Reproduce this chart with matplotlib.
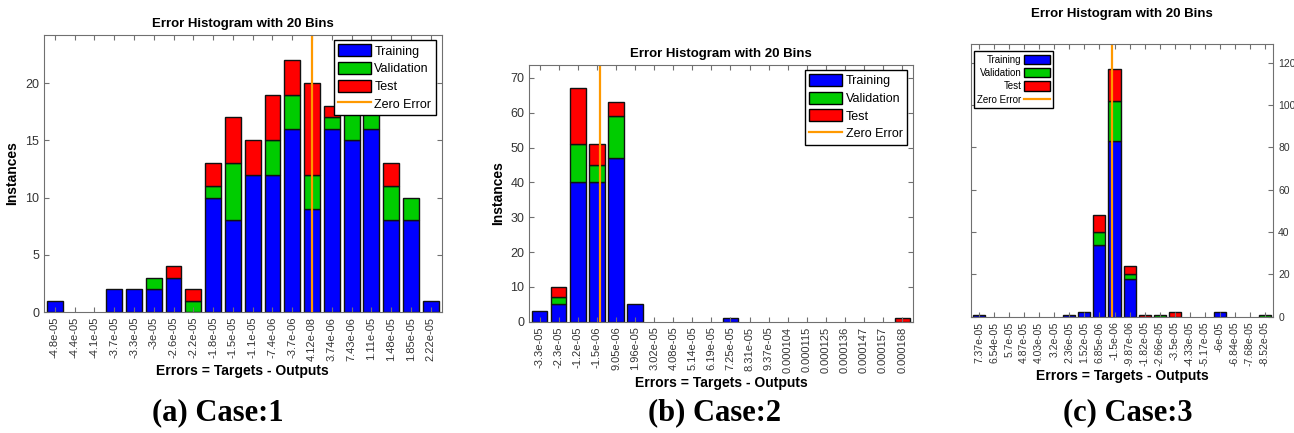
import matplotlib
matplotlib.use("Agg")
import matplotlib.pyplot as plt
import numpy as np
from matplotlib.patches import Patch
from matplotlib.lines import Line2D

plt.rcParams['font.family'] = ['Liberation Sans', 'DejaVu Sans']

# ---- data (bin centres as tick labels, counts per bin) ----
labels_a = ['-4.8e-05', '-4.4e-05', '-4.1e-05', '-3.7e-05', '-3.3e-05', '-3e-05', '-2.6e-05',
            '-2.2e-05', '-1.8e-05', '-1.5e-05', '-1.1e-05', '-7.4e-06', '-3.7e-06', '4.12e-08',
            '3.74e-06', '7.43e-06', '1.11e-05', '1.48e-05', '1.85e-05', '2.22e-05']
train_a = [1, 0, 0, 2, 2, 2, 3, 0, 10, 8, 12, 12, 16, 9, 16, 15, 16, 8, 8, 1]
val_a   = [0, 0, 0, 0, 0, 1, 0, 1, 1, 5, 0, 3, 3, 3, 1, 3, 2, 3, 2, 0]
test_a  = [0, 0, 0, 0, 0, 0, 1, 1, 2, 4, 3, 4, 3, 8, 1, 1, 1, 2, 0, 0]

labels_b = ['-3.3e-05', '-2.3e-05', '-1.2e-05', '-1.5e-06', '9.05e-06', '1.96e-05', '3.02e-05',
            '4.08e-05', '5.14e-05', '6.19e-05', '7.25e-05', '8.31e-05', '9.37e-05', '0.000104',
            '0.000115', '0.000125', '0.000136', '0.000147', '0.000157', '0.000168']
train_b = [3, 5, 40, 40, 47, 5, 0, 0, 0, 0, 1, 0, 0, 0, 0, 0, 0, 0, 0, 0]
val_b   = [0, 2, 11, 5, 12, 0, 0, 0, 0, 0, 0, 0, 0, 0, 0, 0, 0, 0, 0, 0]
test_b  = [0, 3, 16, 6, 4, 0, 0, 0, 0, 0, 0, 0, 0, 0, 0, 0, 0, 0, 0, 1]

labels_c = ['-8.52e-05', '-7.68e-05', '-6.84e-05', '-6e-05', '-5.17e-05', '-4.33e-05', '-3.5e-05',
            '-2.66e-05', '-1.82e-05', '-9.87e-06', '-1.5e-06', '6.85e-06', '1.52e-05', '2.36e-05',
            '3.2e-05', '4.03e-05', '4.87e-05', '5.7e-05', '6.54e-05', '7.37e-05']
train_c = [0, 0, 0, 2, 0, 0, 0, 0, 0, 18, 83, 34, 2, 1, 0, 0, 0, 0, 0, 1]
val_c   = [1, 0, 0, 0, 0, 0, 0, 1, 0, 2, 19, 6, 0, 0, 0, 0, 0, 0, 0, 0]
test_c  = [0, 0, 0, 0, 0, 0, 2, 0, 1, 4, 15, 8, 0, 0, 0, 0, 0, 0, 0, 0]

captions = ['(a) Case:1', '(b) Case:2', '(c) Case:3']

BLUE, GREEN, RED, ORANGE = '#0000ff', '#00cc00', '#ff0000', '#ff9900'
GRAY = '#707070'


def draw_hist(ax, labels, train, val, test, tick_fs=8, ytick_fs=9, leg_fs=9,
              title_pad=6, mirrored=False):
    pos = np.arange(1, len(labels) + 1)
    tr, va, te = np.array(train), np.array(val), np.array(test)
    for vals, base, col in [(tr, 0, BLUE), (va, tr, GREEN), (te, tr + va, RED)]:
        edges = ['#111111' if v > 0 else 'none' for v in vals]
        ax.bar(pos, vals, bottom=base, width=0.8, color=col, edgecolor=edges, linewidth=1.0)
    centers = np.array([float(s) for s in labels])
    zero = np.interp(0.0, centers, pos)
    ax.axvline(zero, color=ORANGE, lw=1.6)
    ax.set_xlim(0.45, len(labels) + 0.55)
    ax.set_ylim(0, 1.1 * (tr + va + te).max())
    ax.set_xticks(pos)
    ax.set_xticklabels(labels, rotation=90)
    ax.tick_params(axis='both', direction='in', top=True, right=True, length=3.5,
                   color=GRAY, labelcolor='#333333')
    ax.tick_params(axis='x', labelsize=tick_fs)
    ax.tick_params(axis='y', labelsize=ytick_fs)
    for sp in ax.spines.values():
        sp.set_color(GRAY)
    ax.set_title('Error Histogram with 20 Bins', fontsize=9.5, fontweight='bold', pad=title_pad)
    ax.set_xlabel('Errors = Targets - Outputs', fontsize=10, fontweight='bold', labelpad=2)
    handles = [Patch(facecolor=BLUE, edgecolor='black'),
               Patch(facecolor=GREEN, edgecolor='black'),
               Patch(facecolor=RED, edgecolor='black'),
               Line2D([0], [0], color=ORANGE, lw=1.6)]
    names = ['Training', 'Validation', 'Test', 'Zero Error']
    if mirrored:
        ax.invert_xaxis()
        ax.tick_params(labelleft=False, labelright=True)
        leg = ax.legend(handles, names, loc='upper left', bbox_to_anchor=(0.01, 0.975),
                        borderaxespad=0, fontsize=leg_fs, markerfirst=False, fancybox=False,
                        handlelength=2.6, handleheight=1.1, labelspacing=0.35,
                        borderpad=0.35, handletextpad=0.3)
    else:
        ax.set_ylabel('Instances', fontsize=10, fontweight='bold', labelpad=4)
        leg = ax.legend(handles, names, loc='upper right', bbox_to_anchor=(0.985, 0.982),
                        borderaxespad=0, fontsize=leg_fs, fancybox=False,
                        handlelength=2.6, handleheight=1.1, labelspacing=0.35,
                        borderpad=0.35, handletextpad=0.3)
    leg.get_frame().set_edgecolor('black')
    leg.get_frame().set_alpha(1)


fig = plt.figure(figsize=(12.94, 4.33), dpi=100)
ax_a = fig.add_axes([0.034, 0.2794, 0.3073, 0.6397])
ax_b = fig.add_axes([0.409, 0.2570, 0.2963, 0.5928])
ax_c = fig.add_axes([0.7502, 0.2686, 0.2338, 0.6291])

draw_hist(ax_a, labels_a, train_a, val_a, test_a)
draw_hist(ax_b, labels_b, train_b, val_b, test_b)
draw_hist(ax_c, labels_c, train_c, val_c, test_c, tick_fs=7.5, ytick_fs=7.5, leg_fs=7,
          title_pad=20, mirrored=True)
ax_a.set_yticks([0, 5, 10, 15, 20])
ax_b.set_yticks(np.arange(0, 71, 10))
ax_c.set_yticks(np.arange(0, 121, 20))

for x, cap in zip([218, 715, 1128], captions):
    fig.text(x / 1294, 1 - 413 / 433, cap, ha='center', va='center', fontsize=22,
             fontweight='bold', family=['Liberation Serif', 'DejaVu Serif'])

fig.savefig('out.png', dpi=100)
